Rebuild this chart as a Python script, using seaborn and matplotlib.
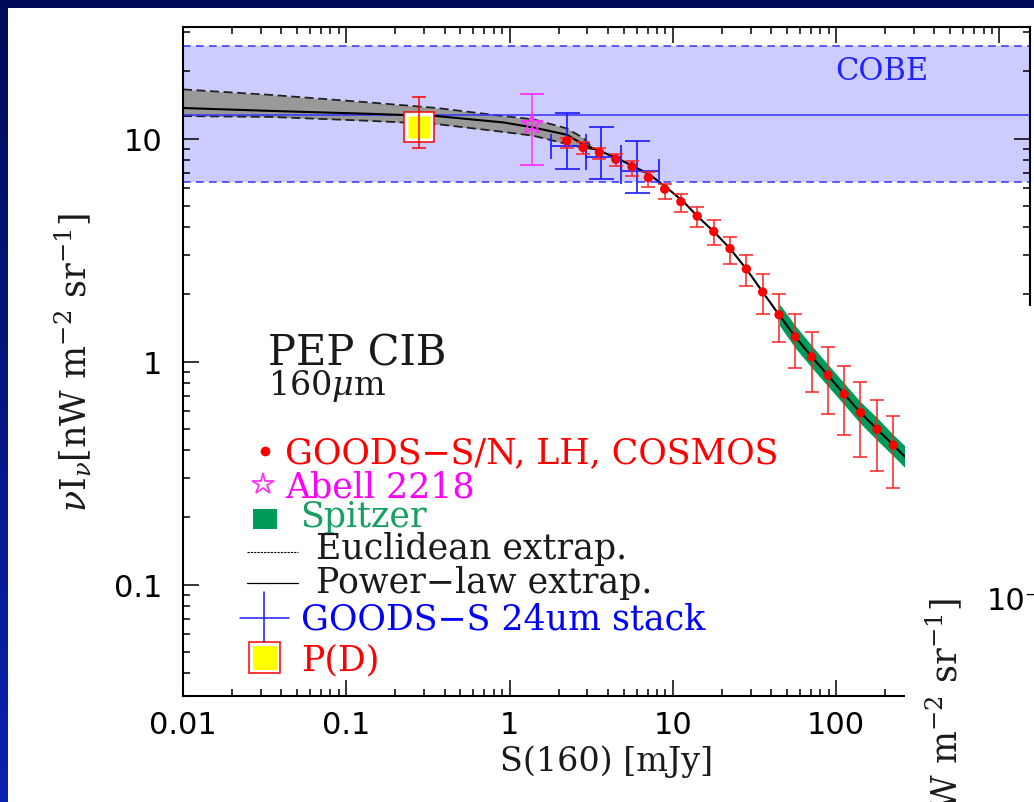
import numpy as np
import matplotlib
matplotlib.use('Agg')
import matplotlib.pyplot as plt
import seaborn as sns
from matplotlib.patches import Rectangle
from matplotlib.lines import Line2D
from matplotlib.colors import LinearSegmentedColormap

# GOODS-S/N, LH, COSMOS stacked counts (red points)
goods_S = [2.24, 2.82, 3.55, 4.47, 5.62, 7.08, 8.91, 11.2, 14.1, 17.8, 22.4,
           28.2, 35.5, 44.7, 56.2, 70.8, 89.1, 112, 141, 178, 224]
goods_I = [9.77, 9.11, 8.65, 8.07, 7.48, 6.68, 5.93, 5.21, 4.49, 3.83, 3.21,
           2.60, 2.05, 1.62, 1.29, 1.05, 0.868, 0.714, 0.590, 0.497, 0.422]
goods_lo = [9.11, 8.50, 8.07, 7.55, 6.81, 6.07, 5.35, 4.70, 4.02, 3.33, 2.73,
            2.18, 1.63, 1.22, 0.933, 0.731, 0.581, 0.469, 0.374, 0.324, 0.272]
goods_hi = [10.1, 9.60, 9.11, 8.50, 7.94, 7.05, 6.28, 5.65, 4.94, 4.31, 3.62,
            3.01, 2.48, 2.00, 1.64, 1.36, 1.16, 0.957, 0.811, 0.673, 0.569]

# GOODS-S 24um stack (blue crosses)
stack_S = [2.24, 3.63, 6.0]
stack_S_lo = [1.79, 2.94, 4.79]
stack_S_hi = [2.94, 4.79, 8.26]
stack_I = [9.27, 8.22, 7.17]
stack_I_lo = [7.28, 6.56, 5.69]
stack_I_hi = [13.0, 11.3, 9.77]

# Abell 2218 and P(D)
abell_S, abell_I, abell_lo, abell_hi = 1.38, 11.6, 7.62, 15.9
pd_S, pd_I, pd_lo, pd_hi = 0.28, 11.3, 9.02, 15.4

# power-law extrapolation curve
line_S = [0.01, 0.034, 0.14, 0.36, 0.92, 1.4, 2.24, 2.8, 4.5, 7.2, 9.2, 11.5,
          14.1, 17.8, 22.4, 28.2, 35.5, 44.7, 56.2, 70.8, 89.1, 112, 141, 178,
          224, 320]
line_I = [13.7, 13.3, 12.9, 12.6, 11.8, 11.2, 10.4, 9.45, 8.2, 6.9, 6.0, 5.25,
          4.49, 3.83, 3.21, 2.60, 2.05, 1.62, 1.29, 1.05, 0.868, 0.714, 0.590,
          0.497, 0.422, 0.325]

# Euclidean extrapolation band
eucl_S = [0.01, 0.034, 0.14, 0.36, 0.92, 1.39, 2.24, 2.8, 3.3]
eucl_hi = [16.6, 15.7, 14.5, 13.7, 12.6, 12.2, 11.1, 10.1, 8.95]
eucl_lo = [12.6, 12.5, 12.0, 11.6, 10.7, 10.3, 9.45, 9.1, 8.95]

# Spitzer band
spitz_S = [45, 56.2, 70.8, 89.1, 112, 141, 178, 224, 320]
spitz_hi = [1.81, 1.45, 1.18, 0.97, 0.80, 0.66, 0.56, 0.47, 0.365]
spitz_lo = [1.45, 1.15, 0.94, 0.775, 0.64, 0.527, 0.444, 0.377, 0.29]

# COBE
cobe_I, cobe_lo, cobe_hi = 12.8, 6.4, 25.9

xtick_vals = [0.01, 0.1, 1, 10, 100, 1000]
xtick_labels = ['0.01', '0.1', '1', '10', '100', '']
ytick_vals = [0.1, 1, 10]
ytick_labels = ['0.1', '1', '10']

W, H = 1034, 803
def fx(px):
    return px / W
def fy(py):
    return 1 - py / H

sns.set_theme(style='ticks')
plt.rcParams['font.family'] = ['DejaVu Sans']
plt.rcParams['mathtext.fontset'] = 'dejavuserif'
SERIF = 'DejaVu Serif'
INK = '#1a1a1a'

fig = plt.figure(figsize=(W / 100, H / 100), dpi=100)
fig.patch.set_facecolor('#000b58')

# slide background: blue strip on the left, white panel
gax = fig.add_axes([0, 0, fx(8), 1], zorder=-20)
gax.imshow(np.linspace(0, 1, 200).reshape(-1, 1), aspect='auto',
           cmap=LinearSegmentedColormap.from_list('strip', ['#000b58', '#0a22b0']),
           extent=[0, 1, 0, 1])
gax.axis('off')
fig.add_artist(Rectangle((fx(8), 0), 1 - fx(8), fy(9), transform=fig.transFigure,
                         facecolor='white', edgecolor='none', zorder=-10))

ax = fig.add_axes([fx(183), fy(697), fx(1030) - fx(183), fy(28) - fy(697)])
ax.set_facecolor('white')
ax.set_xscale('log')
ax.set_yscale('log')
ax.set_xlim(0.01, 1540)
ax.set_ylim(10 ** -1.5, 10 ** 1.5)

# COBE band
ax.axhspan(cobe_lo, cobe_hi, color='#ccccff', lw=0, zorder=0.5)
ax.axhline(cobe_I, color='#3333ff', lw=1.1, zorder=2.5)
ax.axhline(cobe_lo, color='#3333ff', lw=1.1, ls=(0, (5, 3.5)), zorder=2.5)
ax.axhline(cobe_hi, color='#3333ff', lw=1.1, ls=(0, (5, 3.5)), zorder=2.5)
fig.text(fx(882), fy(80), 'COBE', color='#2222ff', fontsize=22, family=SERIF,
         ha='center', va='baseline')

# Euclidean band
ax.fill_between(eucl_S, eucl_lo, eucl_hi, color='#999999', lw=0, zorder=1)
ax.plot(eucl_S, eucl_hi, color='#222222', lw=1.3, ls=(0, (5, 2.5)), zorder=2)
ax.plot(eucl_S, eucl_lo, color='#222222', lw=1.3, ls=(0, (5, 2.5)), zorder=2)

# Spitzer band
ax.fill_between(spitz_S, spitz_lo, spitz_hi, color='#009b5a', lw=0, zorder=2)

# power-law line
sns.lineplot(x=line_S, y=line_I, ax=ax, color='black', lw=1.5, zorder=3,
             estimator=None, sort=False)

# P(D)
ax.plot([pd_S], [pd_I], 's', ms=21, mfc='white', mec='red', mew=1.1, zorder=3.2)
ax.plot([pd_S], [pd_I], 's', ms=16.5, mfc='yellow', mec='none', zorder=3.3)
ax.errorbar([pd_S], [pd_I], yerr=[[pd_I - pd_lo], [pd_hi - pd_I]], fmt='none',
            ecolor='red', elinewidth=1.1, capsize=4.8, capthick=1.1, zorder=3.5)

# Abell 2218
ax.errorbar([abell_S], [abell_I], yerr=[[abell_I - abell_lo], [abell_hi - abell_I]],
            fmt='*', ms=16, mfc='none', mec='#ff33ff', mew=1.3, ecolor='#ff33ff',
            elinewidth=1.1, capsize=8.4, capthick=1.1, zorder=4)

# GOODS-S 24um stack
s_arr, i_arr = np.array(stack_S), np.array(stack_I)
ax.errorbar(stack_S, stack_I,
            xerr=[s_arr - np.array(stack_S_lo), np.array(stack_S_hi) - s_arr],
            yerr=[i_arr - np.array(stack_I_lo), np.array(stack_I_hi) - i_arr],
            fmt='none', ecolor='#1a1aff', elinewidth=1.2, capsize=9, capthick=1.2,
            zorder=4)

# GOODS-S/N, LH, COSMOS
g_arr = np.array(goods_I)
ax.errorbar(goods_S, goods_I, yerr=[g_arr - np.array(goods_lo), np.array(goods_hi) - g_arr],
            fmt='none', ecolor='#ff2020', elinewidth=1.1, capsize=4.7, capthick=1.1,
            zorder=4.5)
sns.scatterplot(x=goods_S, y=goods_I, ax=ax, color='red', s=45, edgecolor='none',
                zorder=5, legend=False)

# axes styling
ax.set_xticks(xtick_vals)
ax.set_xticklabels(xtick_labels)
ax.set_yticks(ytick_vals)
ax.set_yticklabels(ytick_labels)
ax.tick_params(which='both', direction='in', top=True, right=True, width=1.1,
               color='black', labelsize=22, labelcolor='black')
ax.tick_params(which='major', length=11.5)
ax.tick_params(which='minor', length=5)
ax.tick_params(axis='x', pad=10)
ax.tick_params(axis='y', pad=15)
for sp in ax.spines.values():
    sp.set_linewidth(1.5)
    sp.set_color('black')

ax.set_xlabel('S(160) [mJy]', fontsize=24, family=SERIF, color=INK)
ax.xaxis.set_label_coords(0.5, (697 - 745) / 669)
ax.set_ylabel(r'$\nu$I$_\nu$[nW m$^{-2}$ sr$^{-1}$]', fontsize=25, family=SERIF,
              color=INK)
ax.yaxis.set_label_coords((94 - 183) / 847, 0.5)

# in-plot labels
fig.text(fx(268), fy(365), 'PEP CIB', fontsize=30, family=SERIF, color=INK,
         va='baseline')
fig.text(fx(268), fy(395), r'160$\mu$m', fontsize=24, family=SERIF, color=INK,
         va='baseline')

# hand-placed legend
leg = [
    ('GOODS\u2212S/N, LH, COSMOS', 285, 463, 'red'),
    ('Abell 2218', 285, 498, '#ff00ff'),
    ('Spitzer', 300, 527, '#16a060'),
    ('Euclidean extrap.', 316, 559, INK),
    ('Power\u2212law extrap.', 316, 593, INK),
    ('GOODS\u2212S 24um stack', 301, 630, '#0000ff'),
    ('P(D)', 301, 670, 'red'),
]
for txt, px, py, col in leg:
    fig.text(fx(px), fy(py), txt, fontsize=25, family=SERIF, color=col, va='baseline')

fig.add_artist(Line2D([fx(265)], [fy(451.7)], marker='o', ms=6, color='red', ls='none'))
fig.add_artist(Line2D([fx(263.3)], [fy(485)], marker='*', ms=16, mfc='none',
                      mec='#ff33ff', mew=1.3, ls='none'))
fig.add_artist(Rectangle((fx(253.3), fy(530)), fx(276.7) - fx(253.3), fy(510) - fy(530),
                         transform=fig.transFigure, facecolor='#009b5a', edgecolor='none'))
fig.add_artist(Line2D([fx(246.7), fx(298.3)], [fy(552.7)] * 2, color='black', lw=0.8,
                      ls=(0, (2, 1))))
fig.add_artist(Line2D([fx(246.7), fx(298.3)], [fy(584)] * 2, color='black', lw=0.9))
fig.add_artist(Line2D([fx(264.3)] * 2, [fy(593), fy(643)], color='#1a1aff', lw=1.1))
fig.add_artist(Line2D([fx(240), fx(289.3)], [fy(619.3)] * 2, color='#1a1aff', lw=1.1))
fig.add_artist(Rectangle((fx(249), fy(674.3)), fx(280) - fx(249), fy(643.3) - fy(674.3),
                         transform=fig.transFigure, facecolor='white', edgecolor='red',
                         lw=1.1))
fig.add_artist(Rectangle((fx(253.3), fy(670.7)), fx(277.3) - fx(253.3), fy(646.7) - fy(670.7),
                         transform=fig.transFigure, facecolor='yellow', edgecolor='none'))

# overlapping neighbour panel on the right
fig.add_artist(Rectangle((fx(905), 0), 1 - fx(905), fy(307), transform=fig.transFigure,
                         facecolor='white', edgecolor='none', zorder=10))
fig.text(fx(987), fy(610), '10\u207b', fontsize=22, color='black', va='baseline',
         zorder=11)
fig.text(fx(964), fy(598), r'[W m$^{-2}$ sr$^{-1}$]', fontsize=25, family=SERIF,
         color=INK, rotation=90, ha='right', va='top', zorder=11)

fig.savefig('out.png', dpi=100, facecolor=fig.get_facecolor())
